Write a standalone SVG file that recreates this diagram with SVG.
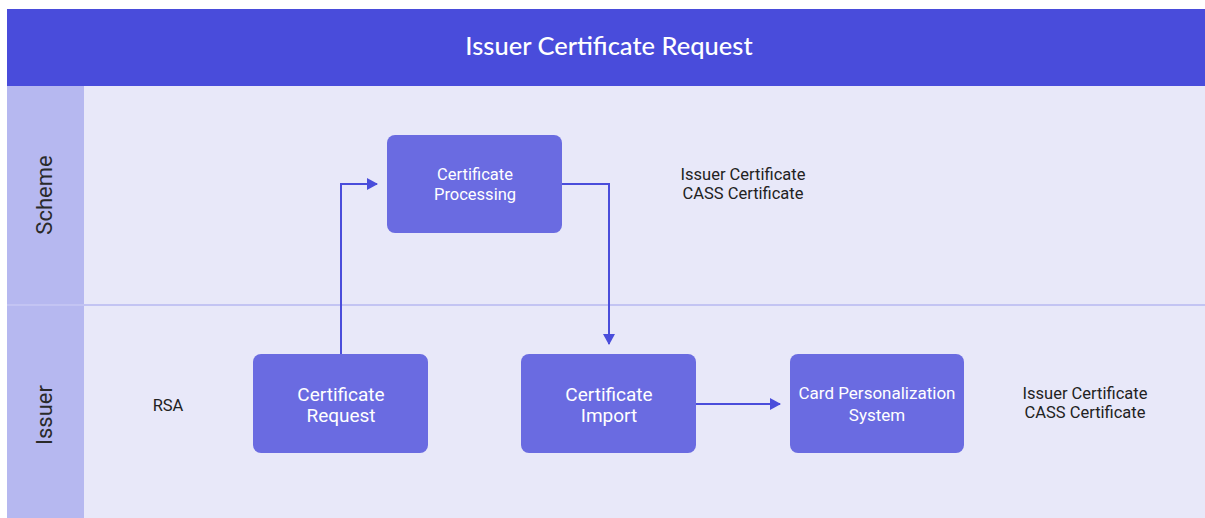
<svg xmlns="http://www.w3.org/2000/svg" width="1205" height="518" viewBox="0 0 1205 518">
<defs>
<style>
.node rect{fill:#6A6BE1;}
.nt{font-family:Roboto,"Liberation Sans",sans-serif;fill:#ffffff;text-anchor:middle;}
.lt{font-family:Roboto,"Liberation Sans",sans-serif;fill:#222222;text-anchor:middle;font-size:16.5px;}
.lane{font-family:Roboto,"Liberation Sans",sans-serif;fill:#2a2a2a;text-anchor:middle;font-size:22px;}
.conn{fill:none;stroke:#4A4DDB;stroke-width:2;}
</style>
<marker id="arr" markerWidth="12" markerHeight="12" refX="10" refY="6" orient="auto" markerUnits="userSpaceOnUse">
<path d="M0,0 L11,6 L0,12 Z" fill="#4A4DDB"/>
</marker>
</defs>
<rect x="0" y="0" width="1205" height="518" fill="#ffffff"/>
<g id="background">
<rect x="7" y="86" width="1198" height="432" fill="#E8E8F9"/>
<rect x="7" y="86" width="77" height="432" fill="#B6B8F0"/>
<rect x="7" y="9" width="1198" height="77" fill="#494CDB"/>
<rect x="7" y="304" width="1198" height="2" fill="#C3C4F3"/>
<text x="609" y="55" font-family="Lato,'Open Sans',sans-serif" font-size="25.5" font-weight="500" fill="#ffffff" text-anchor="middle">Issuer Certificate Request</text>
</g>
<g id="lane-scheme">
<text class="lane" transform="translate(52,195) rotate(-90)">Scheme</text>
</g>
<g id="lane-issuer">
<text class="lane" transform="translate(52,415) rotate(-90)">Issuer</text>
</g>
<g id="connectors">
<path class="conn" d="M341,354 L341,184 L377,184" marker-end="url(#arr)"/>
<path class="conn" d="M562,184 L609,184 L609,344" marker-end="url(#arr)"/>
<path class="conn" d="M696,404 L780,404" marker-end="url(#arr)"/>
</g>
<g id="cert-processing" class="node">
<rect x="387" y="135" width="175" height="98" rx="8"/>
<text class="nt" font-size="16.5" x="475" y="180">Certificate</text>
<text class="nt" font-size="16.5" x="475" y="200">Processing</text>
</g>
<g id="cert-request" class="node">
<rect x="253" y="354" width="175" height="99" rx="8"/>
<text class="nt" font-size="19" x="341" y="401">Certificate</text>
<text class="nt" font-size="19" x="341" y="422">Request</text>
</g>
<g id="cert-import" class="node">
<rect x="521" y="354" width="175" height="99" rx="8"/>
<text class="nt" font-size="19" x="609" y="401">Certificate</text>
<text class="nt" font-size="19" x="609" y="422">Import</text>
</g>
<g id="card-perso" class="node">
<rect x="790" y="354" width="174" height="99" rx="8"/>
<text class="nt" font-size="17" x="877" y="399">Card Personalization</text>
<text class="nt" font-size="17" x="877" y="421">System</text>
</g>
<g id="label-scheme-out">
<text class="lt" x="743" y="180">Issuer Certificate</text>
<text class="lt" x="743" y="198.5">CASS Certificate</text>
</g>
<g id="label-issuer-out">
<text class="lt" x="1085" y="399">Issuer Certificate</text>
<text class="lt" x="1085" y="417.5">CASS Certificate</text>
</g>
<g id="label-rsa">
<text class="lt" x="168" y="411">RSA</text>
</g>
</svg>
